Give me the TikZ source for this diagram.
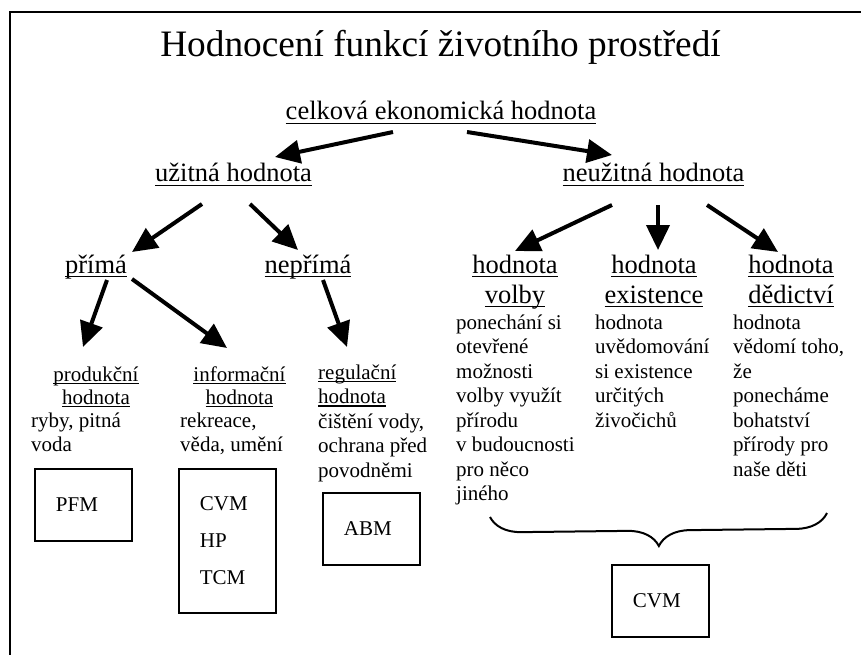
\documentclass[tikz,border=0pt]{standalone}
\usepackage{fontspec}
\setmainfont{Liberation Serif}
\usetikzlibrary{arrows.meta,calc,decorations.pathreplacing}
\newcommand{\undl}[1]{\setbox0\hbox{#1}\rlap{\rule[-0.15em]{\wd0}{0.055em}}\box0}

\begin{document}
\begin{tikzpicture}[x=1pt,y=-1pt,
		big/.style={font=\fontsize{26.5}{30}\selectfont, inner sep=0pt, anchor=base, align=center},
		smallhead/.style={font=\fontsize{21}{23}\selectfont, inner sep=0pt, anchor=base, align=center},
		small/.style={font=\fontsize{21}{24.5}\selectfont, inner sep=0pt, anchor=base west, align=left},
		method/.style={draw, line width=1.8pt, anchor=north west, font=\fontsize{21}{24.5}\selectfont, text width=55pt, align=left, inner sep=0pt, minimum width=97pt, minimum height=72pt},
		arr/.style={line width=4pt, -{Triangle[length=25pt,width=23pt]}}]
			\useasboundingbox (0,0) rectangle (861,655);
			
			%Frame
			\draw[line width=2pt] (861,12) -| (10,655);
			
			%Title
			\node[font=\fontsize{37.3}{44}\selectfont, inner sep=0pt, anchor=base] (title) at (440.5,57) {Hodnocení funkcí životního prostředí};
			
			%Top levels (base = last line)
			\node[big] (celk) at (441,120) {\undl{celková ekonomická hodnota}};
			\node[big] (uzit) at (233.5,182) {\undl{užitná hodnota}};
			\node[big] (neuzit) at (653.5,182) {\undl{neužitná hodnota}};
			\node[big] (prima) at (96,273) {\undl{přímá}};
			\node[big] (neprima) at (308,273) {\undl{nepřímá}};
			\node[big] (volby) at (515,303) {\undl{hodnota}\\\undl{volby}};
			\node[big] (exist) at (654,303) {\undl{hodnota}\\\undl{existence}};
			\node[big] (dedic) at (791,303) {\undl{hodnota}\\\undl{dědictví}};
			
			%Use value, lowest level
			\node[smallhead] (produk) at (96,404) {\undl{produkční}\\\undl{hodnota}};
			\node[small] (ryby) at (31,451.5) {ryby, pitná\\voda};
			\node[smallhead] (inform) at (239.5,404) {\undl{informační}\\\undl{hodnota}};
			\node[small] (rekreace) at (180,451.5) {rekreace,\\věda, umění};
			\node[small] (regul) at (318,477) {\undl{regulační}\\\undl{hodnota}\\čištění vody,\\ochrana před\\povodněmi};
			
			%Non-use value, texts
			\node[small] (volbyT) at (456,500.5) {ponechání si\\otevřené\\možnosti\\volby využít\\přírodu\\v budoucnosti\\pro něco\\jiného};
			\node[small] (existT) at (595,427) {hodnota\\uvědomování\\si existence\\určitých\\živočichů};
			\node[small] (dedicT) at (733,476) {hodnota\\vědomí toho,\\že\\ponecháme\\bohatství\\přírody pro\\naše děti};
			
			%Methods
			\node[method] (pfm) at (34,468) {PFM};
			\node[method, minimum height=144pt, font=\fontsize{21}{37}\selectfont] (cvmA) at (178,468) {CVM\\HP\\TCM};
			\node[method] (abm) at (322,492) {ABM};
			\node[method] (cvmB) at (611,564) {CVM};
			
			%Brace
			\coordinate (brL) at (490,517);
			\coordinate (brR) at (827,513);
			\draw[line width=2pt, decorate, decoration={brace, mirror, amplitude=31pt}] (brL) -- (brR);
			
			%Arrows
			\draw[arr] ($(celk.base)+(-48,12)$) -- ($(uzit.base)+(41.5,-25)$);
			\draw[arr] ($(celk.base)+(26,12)$) -- ($(neuzit.base)+(-41.5,-27)$);
			\draw[arr] ($(uzit.base)+(-31.5,22)$) -- ($(prima.base)+(36,-21)$);
			\draw[arr] ($(uzit.base)+(16.5,22)$) -- ($(neprima.base)+(-10,-23)$);
			\draw[arr] ($(neuzit.base)+(-41.5,23)$) -- ($(volby.base)+(0,-52)$);
			\draw[arr] ($(neuzit.base)+(4.5,23)$) -- ($(exist.base)+(4,-53)$);
			\draw[arr] ($(neuzit.base)+(53.5,23)$) -- ($(dedic.base)+(-13,-51)$);
			\draw[arr] ($(prima.base)+(11,7)$) -- ($(produk.base)+(-13,-57)$);
			\draw[arr] ($(prima.base)+(36,6)$) -- ($(inform.base)+(-12.5,-56)$);
			\draw[arr] ($(neprima.base)+(15,7)$) -- ($(regul.base west)+(29,-130)$);
		\end{tikzpicture}
\end{document}
